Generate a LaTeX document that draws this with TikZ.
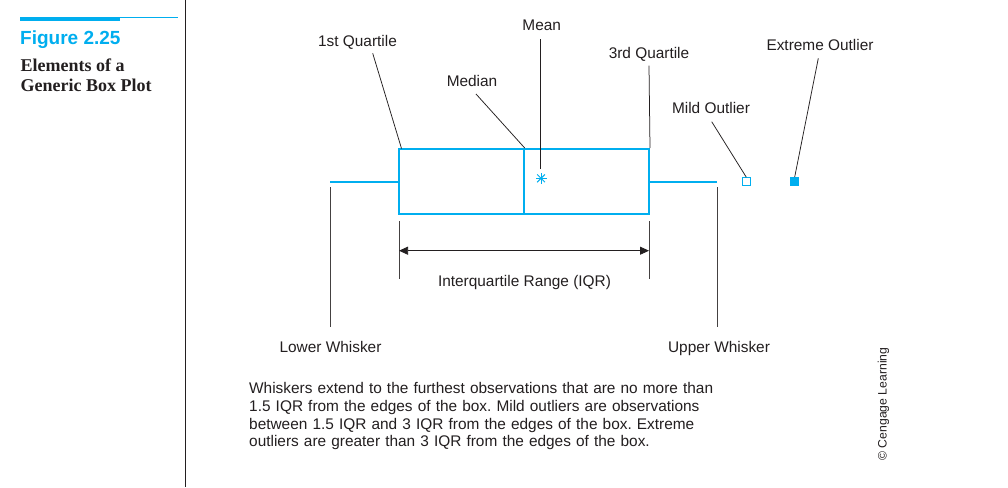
\documentclass[tikz,border=0pt]{standalone}
\usepackage{fontspec}
\setmainfont{Liberation Sans}
\newfontfamily\capserif{Liberation Serif}
\usetikzlibrary{arrows.meta}
\definecolor{cyanb}{RGB}{0,174,239}
\definecolor{ink}{RGB}{35,31,32}
\frenchspacing
\begin{document}
\begin{tikzpicture}[x=1pt,y=-1pt,
  lbl/.style={font=\fontsize{15.4}{17.8}\selectfont, text=ink, inner sep=0pt, anchor=base},
  leader/.style={draw=ink, line width=0.75pt},
  guide/.style={draw=ink!85, line width=0.9pt},
  boxpart/.style={draw=cyanb, line width=2pt, minimum height=65pt, inner sep=0pt},
  whisk/.style={draw=cyanb, line width=2pt},
  outl/.style={draw=cyanb, line width=1pt, minimum size=8pt, inner sep=0pt},
  ray/.style={draw=cyanb, line width=1pt}]
\useasboundingbox (0,0) rectangle (1008,487);
\fill[white] (0,0) rectangle (1008,487);

% left panel
\fill[cyanb] (20,16.7) rectangle (178.3,18.4);
\fill[cyanb] (20,16.7) rectangle (120,20.7);
\draw[ink, line width=1pt] (185,0) -- (185,487);
\node[anchor=base west, inner sep=0pt, text=cyanb, font=\fontsize{19}{22}\selectfont\bfseries] (figno) at (20,44.3) {Figure 2.25};
\node[anchor=base west, inner sep=0pt, text=ink, font=\capserif\fontsize{18}{20}\selectfont\bfseries] (figt1) at (20.5,71) {Elements of a};
\node[anchor=base west, inner sep=0pt, text=ink, font=\capserif\fontsize{18}{20}\selectfont\bfseries] (figt2) at (20.5,91) {Generic Box Plot};

% box
\node[boxpart, minimum width=125pt] (lowbox) at (461.2,181.5) {};
\node[boxpart, minimum width=125.3pt] (highbox) at (586.35,181.5) {};

% whiskers
\coordinate (lwend) at (330,181.5);
\coordinate (uwend) at (717.3,181.5);
\draw[whisk] (lwend) -- (lowbox.west);
\draw[whisk] (highbox.east) -- (uwend);

% outliers
\node[outl] (mild) at (746.3,181.7) {};
\node[outl, fill=cyanb] (extreme) at (794.7,181.5) {};

% mean asterisk
\node[inner sep=0pt, minimum size=11pt] (meanpt) at (541,178.3) {};
\foreach \a in {0,45,90,135} {
  \draw[ray] (meanpt.center) ++(\a:5.5) -- ++(\a+180:11);
}

% labels
\node[lbl] (q1lbl) at (357.5,46.8) {1st Quartile};
\node[lbl] (medlbl) at (472,86.9) {Median};
\node[lbl] (meanlbl) at (541.7,30.9) {Mean};
\node[lbl] (q3lbl) at (649,58.5) {3rd Quartile};
\node[lbl] (extlbl) at (820,50.2) {Extreme Outlier};
\node[lbl] (mildlbl) at (711,113.5) {Mild Outlier};
\node[lbl] (iqrlbl) at (524.5,286) {Interquartile Range (IQR)};
\node[lbl] (lwlbl) at (330.5,352.7) {Lower Whisker};
\node[lbl] (uwlbl) at (719,352.7) {Upper Whisker};

% leader lines
\coordinate (q1a) at (372.7,53.3);
\coordinate (q1b) at (401.5,148.5);
\draw[leader] (q1a) -- (q1b);
\coordinate (meda) at (476,94);
\draw[leader] (meda) -- (lowbox.north east);
\coordinate (meana) at (540.3,39.3);
\coordinate (meanb) at (540.3,169);
\draw[leader] (meana) -- (meanb);
\coordinate (q3a) at (649,65.7);
\draw[leader] (q3a) -- (highbox.north east);
\coordinate (milda) at (711.7,121.7);
\draw[leader] (milda) -- (mild.north);
\coordinate (exta) at (818.3,58.3);
\draw[leader] (exta) -- (extreme.north);

% whisker guides
\coordinate (lwtop) at (330,187);
\coordinate (lwbot) at (330,326.7);
\draw[guide] (lwtop) -- (lwbot);
\coordinate (uwtop) at (717.3,187);
\coordinate (uwbot) at (717.3,326.7);
\draw[guide] (uwtop) -- (uwbot);

% IQR guides and arrow
\coordinate (iqlt) at (399,221);
\coordinate (iqlb) at (399,279);
\coordinate (iqrt) at (649,221);
\coordinate (iqrb) at (649,279);
\draw[guide] (iqlt) -- (iqlb);
\draw[guide] (iqrt) -- (iqrb);
\coordinate (iqarl) at (399,250.7);
\coordinate (iqarr) at (649,250.7);
\draw[leader, {Triangle[length=9pt,width=8pt]}-{Triangle[length=9pt,width=8pt]}] (iqarl) -- (iqarr);

% explanation
\node[anchor=base west, inner sep=0pt, text=ink, font=\fontsize{15.4}{17.8}\selectfont, text width=520pt, align=left] (expl) at (249,393.5)
{Whiskers extend to the furthest observations that are no more than\\
1.5 IQR from the edges of the box. Mild outliers are observations\\
between 1.5 IQR and 3 IQR from the edges of the box. Extreme\\
outliers are greater than 3 IQR from the edges of the box.};

% credit
\node[rotate=90, inner sep=0pt, text=ink, font=\fontsize{12.2}{14}\selectfont] (credit) at (883.5,404) {\textcopyright{} Cengage Learning};
\end{tikzpicture}
\end{document}
